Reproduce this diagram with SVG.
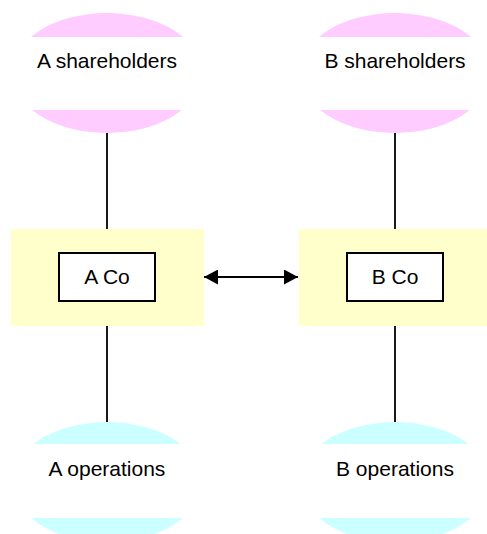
<svg xmlns="http://www.w3.org/2000/svg" width="487" height="534" viewBox="0 0 487 534">
<style>
.lbl{font-family:"Liberation Sans",Arial,sans-serif;font-size:21px;fill:#000;text-anchor:middle}
.band{fill:#fff}
.pink{fill:#FFCCFF}
.cyan{fill:#CCFFFF}
.yel{fill:#FFFFCC}
.box{fill:#fff;stroke:#000;stroke-width:2}
.conn{stroke:#000;stroke-width:1.8;fill:none}
</style>
<defs>
<marker id="ah" markerWidth="14" markerHeight="15" viewBox="0 0 14 15" refX="14" refY="7.5" orient="auto-start-reverse" markerUnits="userSpaceOnUse">
<polygon points="0,0 14,7.5 0,15" fill="#000"/>
</marker>
</defs>
<rect width="487" height="534" fill="#fff"/>
<g id="a-shareholders">
<ellipse class="pink" cx="107" cy="73" rx="95" ry="60"/>
<rect class="band" x="10" y="37" width="194" height="73"/>
<text class="lbl" x="107" y="68">A shareholders</text>
</g>
<g id="b-shareholders">
<ellipse class="pink" cx="395" cy="73" rx="95" ry="60"/>
<rect class="band" x="298" y="37" width="194" height="73"/>
<text class="lbl" x="395" y="68">B shareholders</text>
</g>
<g id="a-co">
<rect class="yel" x="11" y="229" width="193" height="97"/>
<rect class="box" x="59" y="253" width="96" height="48"/>
<text class="lbl" x="107" y="284">A Co</text>
</g>
<g id="b-co">
<rect class="yel" x="299" y="229" width="193" height="97"/>
<rect class="box" x="347" y="253" width="96" height="48"/>
<text class="lbl" x="395" y="284">B Co</text>
</g>
<g id="a-operations">
<ellipse class="cyan" cx="107" cy="482" rx="95" ry="60"/>
<rect class="band" x="10" y="444" width="194" height="74"/>
<text class="lbl" x="107" y="476">A operations</text>
</g>
<g id="b-operations">
<ellipse class="cyan" cx="395" cy="482" rx="95" ry="60"/>
<rect class="band" x="298" y="444" width="194" height="74"/>
<text class="lbl" x="395" y="476">B operations</text>
</g>
<g id="connectors">
<line class="conn" x1="107" y1="133" x2="107" y2="229"/>
<line class="conn" x1="395" y1="133" x2="395" y2="229"/>
<line class="conn" x1="107" y1="326" x2="107" y2="422"/>
<line class="conn" x1="395" y1="326" x2="395" y2="422"/>
<line class="conn" x1="204" y1="277" x2="298" y2="277" stroke-width="2.2" marker-start="url(#ah)" marker-end="url(#ah)"/>
</g>
</svg>
